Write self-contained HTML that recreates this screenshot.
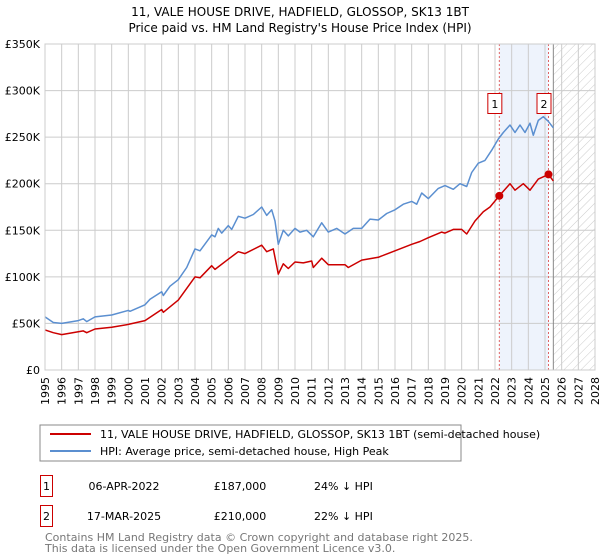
<!DOCTYPE html>
<html><head><meta charset="utf-8"><style>
body{margin:0;background:#fff;font-family:"DejaVu Sans","Liberation Sans",sans-serif;}
svg{display:block}
</style></head><body>
<svg id="c" width="600" height="560" xmlns="http://www.w3.org/2000/svg" font-family="DejaVu Sans, Liberation Sans, sans-serif">
<defs><pattern id="hatch" width="6" height="6" patternUnits="userSpaceOnUse" patternTransform="rotate(45)"><line x1="0" y1="0" x2="0" y2="6" stroke="#ccc" stroke-width="1"/></pattern></defs>
<text x="300" y="16" text-anchor="middle" font-size="12" fill="#000">11, VALE HOUSE DRIVE, HADFIELD, GLOSSOP, SK13 1BT</text>
<text x="300" y="32" text-anchor="middle" font-size="12" fill="#000">Price paid vs. HM Land Registry's House Price Index (HPI)</text>
<g id="plot"></g>
<g>
<rect x="40" y="425" width="421" height="36" fill="#fff" stroke="#888"/>
<line x1="50" y1="434" x2="91" y2="434" stroke="#cc0000" stroke-width="2"/>
<text x="100" y="438" font-size="11">11, VALE HOUSE DRIVE, HADFIELD, GLOSSOP, SK13 1BT (semi-detached house)</text>
<line x1="50" y1="451" x2="91" y2="451" stroke="#5b8fd0" stroke-width="2"/>
<text x="100" y="455" font-size="11">HPI: Average price, semi-detached house, High Peak</text>
</g>
<g font-size="11">
<rect x="40.5" y="475.5" width="12" height="21" fill="#fff" stroke="#cc0000"/>
<text x="46.5" y="490" text-anchor="middle">1</text>
<text x="124" y="490" text-anchor="middle">06-APR-2022</text>
<text x="240" y="490" text-anchor="middle">£187,000</text>
<text x="314" y="490">24% ↓ HPI</text>
<rect x="40.5" y="505.5" width="12" height="21" fill="#fff" stroke="#cc0000"/>
<text x="46.5" y="520" text-anchor="middle">2</text>
<text x="124" y="520" text-anchor="middle">17-MAR-2025</text>
<text x="240" y="520" text-anchor="middle">£210,000</text>
<text x="314" y="520">22% ↓ HPI</text>
</g>
<text x="45" y="541" font-size="11" fill="#777">Contains HM Land Registry data © Crown copyright and database right 2025.</text>
<text x="45" y="552" font-size="11" fill="#777">This data is licensed under the Open Government Licence v3.0.</text>
</svg>
<script>
const yTicks=[0,50000,100000,150000,200000,250000,300000,350000];
const yTickLabels=["£0","£50K","£100K","£150K","£200K","£250K","£300K","£350K"];
const xYears=[1995,1996,1997,1998,1999,2000,2001,2002,2003,2004,2005,2006,2007,2008,2009,2010,2011,2012,2013,2014,2015,2016,2017,2018,2019,2020,2021,2022,2023,2024,2025,2026,2027,2028];
const hpiT=[1995,1995.5,1996,1997,1997.3,1997.5,1998,1999,2000,2000.1,2001,2001.3,2002,2002.1,2002.5,2003,2003.5,2004,2004.3,2005,2005.2,2005.4,2005.6,2006,2006.2,2006.6,2007,2007.5,2008,2008.3,2008.6,2008.8,2009,2009.3,2009.6,2010,2010.3,2010.7,2011.1,2011.6,2012,2012.5,2013,2013.5,2014,2014.5,2015,2015.5,2016,2016.5,2017,2017.3,2017.6,2018,2018.6,2019,2019.5,2019.9,2020.3,2020.6,2021,2021.4,2021.8,2022.2,2022.5,2022.9,2023.2,2023.5,2023.8,2024.1,2024.3,2024.6,2024.9,2025.2,2025.5];
const hpiV=[57,51,50,53,55,52,57,59,64,63,70,76,84,80,90,97,110,130,128,145,143,152,147,155,151,165,163,167,175,166,172,160,135,150,144,152,148,150,143,158,148,152,146,152,152,162,161,168,172,178,181,178,190,184,195,198,194,200,197,212,222,225,236,248,255,263,255,263,255,265,252,268,272,267,260];
const ppT=[1995,1995.5,1996,1997,1997.3,1997.5,1998,1999,2000,2001,2002,2002.1,2003,2004,2004.3,2005,2005.2,2006,2006.6,2007,2008,2008.3,2008.7,2009,2009.3,2009.6,2010,2010.5,2011,2011.1,2011.6,2012,2013,2013.2,2014,2015,2016,2017,2017.5,2018,2018.8,2019,2019.5,2020,2020.3,2020.8,2021.3,2021.7,2022.26,2022.9,2023.2,2023.7,2024.1,2024.6,2025.21,2025.5];
const ppV=[43,40,38,41,42,40,44,46,49,53,65,62,75,100,99,112,108,119,127,125,134,127,130,103,114,109,116,115,117,110,120,113,113,110,118,121,128,135,138,142,148,147,151,151,146,160,170,175,187,200,193,200,193,205,210,203];
const saleT=[2022.26,2025.21];
const saleV=[187,210];
const saleLabels=["1","2"];
const NS="http://www.w3.org/2000/svg";
const X0=45,X1=595,Y0=370,Y1=44;
function xs(t){return X0+(t-1995)/(2028-1995)*(X1-X0);}
function ys(v){return Y0-v/350000*(Y0-Y1);}
const g=document.getElementById('plot');
function mk(tag,attrs,parent){const e=document.createElementNS(NS,tag);for(const k in attrs)e.setAttribute(k,attrs[k]);(parent||g).appendChild(e);return e;}
let r=mk('rect',{x:xs(saleT[0]),y:Y1,width:xs(saleT[1])-xs(saleT[0]),height:Y0-Y1,fill:'#eef3fc'});


const dataEnd=2025.5;
r=mk('rect',{x:xs(dataEnd),y:Y1,width:X1-xs(dataEnd),height:Y0-Y1,fill:'url(#hatch)'});


xYears.forEach(y=>{const l=mk('line',{x1:xs(y),x2:xs(y),y1:Y1,y2:Y0,stroke:'#ccc','stroke-width':1});


const t=mk('text',{x:0,y:0,'font-size':11,'text-anchor':'end',transform:`translate(${xs(y)+4},${Y0+7}) rotate(-90)`});t.textContent=y;

});
yTicks.forEach((v,i)=>{const l=mk('line',{x1:X0,x2:X1,y1:ys(v),y2:ys(v),stroke:'#ccc','stroke-width':1});


const t=mk('text',{x:40,y:ys(v)+4,'font-size':11,'text-anchor':'end'});t.textContent=yTickLabels[i];

});
let ln=mk('line',{x1:xs(dataEnd),x2:xs(dataEnd),y1:Y1,y2:Y0,stroke:'#888','stroke-width':1});


saleT.forEach((t,i)=>{const l=mk('line',{x1:xs(t),x2:xs(t),y1:Y1,y2:Y0,stroke:'#e06666','stroke-width':1,'stroke-dasharray':'2,2'});

});
function path(T,V,col,name){const d=T.map((t,i)=>(i?'L':'M')+xs(t).toFixed(1)+','+ys(V[i]*1000).toFixed(1)).join('');
const p=mk('path',{d:d,fill:'none',stroke:col,'stroke-width':1.5,'stroke-linejoin':'round'});

}
path(hpiT,hpiV,'#5b8fd0','hpi-line');
path(ppT,ppV,'#cc0000','price-paid-line');
saleT.forEach((t,i)=>{const c=mk('circle',{cx:xs(t),cy:ys(saleV[i]*1000),r:4,fill:'#cc0000'});


const b=mk('rect',{x:xs(t)-11.5,y:93.5,width:14,height:20,fill:'#fff',stroke:'#cc0000'});


const tx=mk('text',{x:xs(t)-4.5,y:108,'font-size':11,'text-anchor':'middle'});tx.textContent=saleLabels[i];

});
let f=mk('rect',{x:X0,y:Y1,width:X1-X0,height:Y0-Y1,fill:'none',stroke:'#ccc'});


</script>
</body></html>
